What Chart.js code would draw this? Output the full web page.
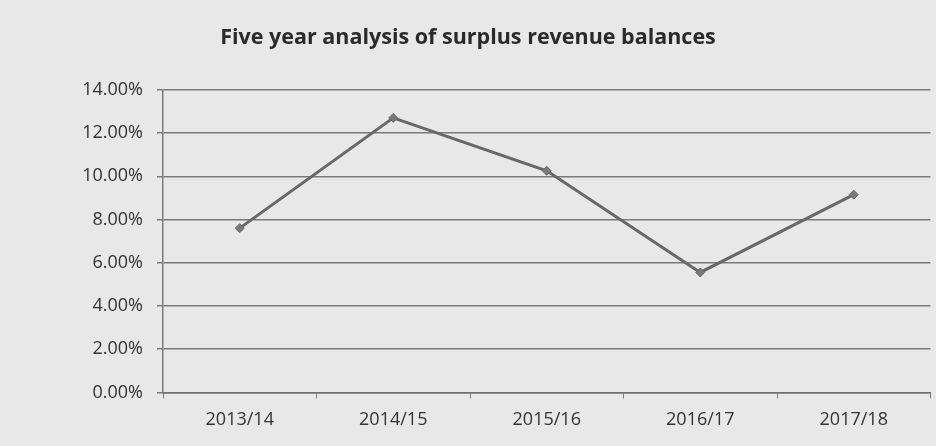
<!DOCTYPE html>
<html>
<head>
<meta charset="utf-8">
<script src="https://cdn.jsdelivr.net/npm/chart.js@4"></script>
<style>
  html, body { margin: 0; padding: 0; background: #e8e8e8; }
  #wrap { width: 936px; height: 446px; }
</style>
</head>
<body>
<div id="wrap"><canvas id="surplus"></canvas></div>
<script>
  var years = ['2013/14', '2014/15', '2015/16', '2016/17', '2017/18'];
  var surplusPct = [7.6, 12.7, 10.25, 5.55, 9.15];
  var yTicks = [0, 2, 4, 6, 8, 10, 12, 14];

  var ctx = document.getElementById('surplus');

  new Chart(ctx, {
    type: 'line',
    data: {
      labels: years,
      datasets: [
        {
          data: surplusPct,
          borderColor: '#686868',
          borderWidth: 3,
          pointStyle: 'rectRot',
          pointRadius: 4.5,
          pointBackgroundColor: '#7a7a7a',
          pointBorderColor: '#686868',
          pointBorderWidth: 1,
          tension: 0
        }
      ]
    },
    options: {
      responsive: true,
      maintainAspectRatio: false,
      animation: false,
      layout: {
        padding: { left: 0, right: 0, top: 25, bottom: 4 }
      },
      plugins: {
        legend: { display: false },
        tooltip: { enabled: false },
        title: {
          display: true,
          text: 'Five year analysis of surplus revenue balances',
          color: '#2a2a2a',
          font: { family: 'Open Sans', size: 21.5, weight: 'bold' },
          padding: { top: 0, bottom: 39 }
        }
      },
      scales: {
        x: {
          offset: true,
          grid: {
            offset: true,
            drawOnChartArea: false,
            drawTicks: true,
            tickLength: 6,
            color: '#7a7a7a'
          },
          border: { display: true, color: '#6e6e6e', width: 1.5 },
          ticks: {
            color: '#333333',
            font: { family: 'Open Sans', size: 18 },
            padding: 11,
            maxRotation: 0
          }
        },
        y: {
          min: 0,
          max: 14,
          afterBuildTicks: function (axis) {
            axis.ticks = yTicks.map(function (v) { return { value: v }; });
          },
          afterFit: function (axis) { axis.width = 163; },
          grid: {
            color: '#7a7a7a',
            lineWidth: 1.5,
            tickLength: 6
          },
          border: { display: true, color: '#7a7a7a', width: 1.5 },
          ticks: {
            color: '#333333',
            font: { family: 'Open Sans', size: 18 },
            padding: 14,
            callback: function (v) { return v.toFixed(2) + '%'; }
          }
        }
      }
    }
  });
</script>
</body>
</html>
